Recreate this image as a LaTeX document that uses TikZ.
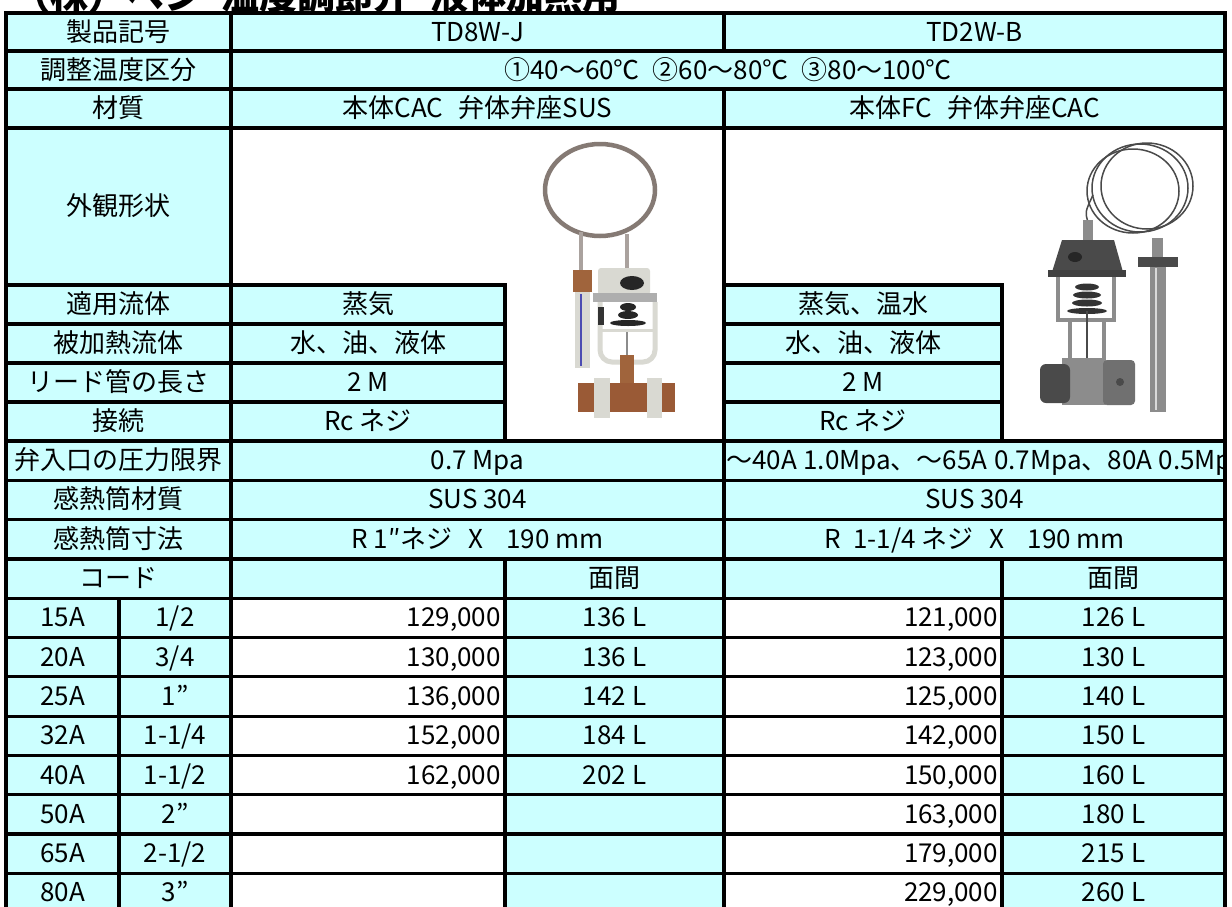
\documentclass[tikz,border=0pt]{standalone}
\usepackage{fontspec}
\setmainfont{Noto Sans CJK JP}
\definecolor{cellcyan}{HTML}{CCFFFF}
\definecolor{ringgrey}{HTML}{857A74}
\definecolor{paleparts}{HTML}{D9D9D2}
\definecolor{capbrown}{HTML}{A0643C}
\definecolor{pipebrown}{HTML}{9A5A36}
\definecolor{darkparts}{HTML}{4A4A4A}
\definecolor{midparts}{HTML}{8C8C8C}
\begin{document}
\begin{tikzpicture}[x=1pt,y=-1pt,
  txt/.style={anchor=base,inner sep=0pt,font=\fontsize{26}{28}\selectfont},
  rule/.style={line width=3.2pt,line cap=rect}]
\useasboundingbox[fill=white] (0,0) rectangle (1232,906);
% title, cut at the top of the sheet
\node[anchor=base west,inner sep=0pt,font=\fontsize{38}{40}\selectfont\bfseries] (title) at (12,9) {（株）ベン\hspace{0.5em}温度調節弁\hspace{0.5em}液体加熱用};

% cell backgrounds
\fill[cellcyan] (6,13) rectangle (1225,912);
\fill[white] (231,128) rectangle (1225,285);
\fill[white] (505,285) rectangle (724,441);
\fill[white] (1002,285) rectangle (1225,441);
\fill[white] (231,598.2) rectangle (505,912);
\fill[white] (724,598.2) rectangle (1002,912);

% TD8W-J valve
\draw[line width=4.5pt,ringgrey] (600,190) ellipse [x radius=55, y radius=46];
\draw[line width=4pt,ringgrey!70] (581,232) -- (581,272);
\draw[line width=4pt,ringgrey!70] (627,234) -- (627,268);
\fill[capbrown] (573,270) rectangle (592,292);
\fill[paleparts] (575,292) rectangle (590,368);
\draw[line width=1.5pt,blue!40!gray] (581,294) -- (581,366);
\fill[paleparts,rounded corners=3pt] (598,268) rectangle (650,295);
\fill[black!85] (632,283) ellipse [x radius=12, y radius=7];
\fill[midparts!70] (593,293) rectangle (657,302);
\draw[line width=5pt,paleparts,rounded corners=12pt] (600,302) -- (600,362) -- (655,362) -- (655,302);
\draw[line width=3pt,paleparts] (600,330) -- (655,330);
\fill[black!80] (598,307) rectangle (604,325);
\fill[black!85] (628,307) ellipse [x radius=8, y radius=4];
\fill[black!85] (628,315) ellipse [x radius=10, y radius=4];
\fill[black!85] (628,323) ellipse [x radius=18, y radius=3];
\draw[line width=2pt,midparts] (627,332) -- (627,358);
\fill[capbrown] (620,355) rectangle (634,383);
\fill[pipebrown] (578,383) rectangle (675,412);
\fill[paleparts] (594,378) rectangle (610,418);
\fill[paleparts] (647,378) rectangle (662,418);

% TD2W-B valve
\draw[line width=1.5pt,darkparts] (1140,188) ellipse [x radius=48, y radius=44];
\draw[line width=1.5pt,darkparts] (1147,186) ellipse [x radius=46, y radius=43];
\draw[line width=1.5pt,darkparts] (1133,191) ellipse [x radius=46, y radius=42];
\draw[line width=1.5pt,darkparts] (1093,195) .. controls (1085,212) .. (1088,222);
\fill[midparts] (1083,220) rectangle (1093,240);
\fill[darkparts] (1062,240) -- (1114,240) -- (1123,272) -- (1052,272) -- cycle;
\fill[black!85] (1075,257) ellipse [x radius=7, y radius=5];
\fill[black!75] (1048,270) rectangle (1126,277);
\draw[line width=3.5pt,midparts] (1058,277) -- (1058,320) -- (1114,320) -- (1114,277);
\fill[black!80] (1087,287) ellipse [x radius=12, y radius=3.5];
\fill[black!80] (1087,295) ellipse [x radius=14, y radius=3.5];
\fill[black!80] (1087,303) ellipse [x radius=15, y radius=3.5];
\fill[black!80] (1087,311) ellipse [x radius=20, y radius=3];
\draw[line width=3.5pt,midparts] (1070,320) -- (1070,358);
\draw[line width=3.5pt,midparts] (1104,320) -- (1104,358);
\draw[line width=2pt,darkparts] (1087,311) -- (1087,360);
\fill[midparts] (1062,358) rectangle (1106,405);
\fill[darkparts,rounded corners=6pt] (1040,364) rectangle (1070,403);
\fill[midparts!80!black,rounded corners=4pt] (1103,360) rectangle (1135,405);
\fill[darkparts] (1120,382) circle (4);
\fill[midparts] (1152,238) rectangle (1163,258);
\fill[darkparts] (1138,257) rectangle (1178,267);
\fill[midparts] (1150,267) rectangle (1166,412);
\draw[line width=2pt,white!70!gray] (1156,268) -- (1156,410);

% header rows
\node[txt] (name1) at (118.5,41) {製品記号};
\node[txt] (tdj1) at (477.5,41) {TD8W-J};
\node[txt] (tdb1) at (974.5,41) {TD2W-B};
\node[txt] (name2) at (118.5,79) {調整温度区分};
\node[txt] (temp2) at (728,79) {①40～60℃\hspace{0.5em}②60～80℃\hspace{0.5em}③80～100℃};
\node[txt] (name3) at (118.5,117.5) {材質};
\node[txt] (tdj3) at (477.5,117.5) {本体CAC\hspace{0.6em}弁体弁座SUS};
\node[txt] (tdb3) at (974.5,117.5) {本体FC\hspace{0.6em}弁体弁座CAC};
\node[txt] (name4) at (118.5,215.5) {外観形状};
\node[txt] (name5) at (118.5,313.5) {適用流体};
\node[txt] (tdj5) at (368,313.5) {蒸気};
\node[txt] (tdb5) at (863,313.5) {蒸気、温水};
\node[txt] (name6) at (118.5,352.5) {被加熱流体};
\node[txt] (tdj6) at (368,352.5) {水、油、液体};
\node[txt] (tdb6) at (863,352.5) {水、油、液体};
\node[txt] (name7) at (118.5,391.5) {リード管の長さ};
\node[txt] (tdj7) at (368,391.5) {2 M};
\node[txt] (tdb7) at (863,391.5) {2 M};
\node[txt] (name8) at (118.5,430.5) {接続};
\node[txt] (tdj8) at (368,430.5) {Rc ネジ};
\node[txt] (tdb8) at (863,430.5) {Rc ネジ};
\node[txt] (name9) at (118.5,469.6) {弁入口の圧力限界};
\node[txt] (tdj9) at (477.5,469.6) {0.7 Mpa};
\begin{scope}
  \clip (724,441) rectangle (1225,480.3);
  \node[txt,anchor=base west] (tdb9) at (726,469.6) {～40A\hspace{0.25em}1.0Mpa、～65A\hspace{0.25em}0.7Mpa、80A\hspace{0.25em}0.5Mpa};
\end{scope}
\node[txt] (name10) at (118.5,508.9) {感熱筒材質};
\node[txt] (tdj10) at (477.5,508.9) {SUS 304};
\node[txt] (tdb10) at (974.5,508.9) {SUS 304};
\node[txt] (name11) at (118.5,548.2) {感熱筒寸法};
\node[txt] (tdj11) at (477.5,548.2) {R 1″ネジ\hspace{0.6em}X\hspace{0.9em}190 mm};
\node[txt] (tdb11) at (974.5,548.2) {R\hspace{0.5em}1-1/4 ネジ\hspace{0.6em}X\hspace{0.9em}190 mm};
\node[txt] (name12) at (118.5,587.5) {コード};
\node[txt] (tdj12) at (614.5,587.5) {面間};
\node[txt] (tdb12) at (1113.5,587.5) {面間};

% price rows
\foreach \k/\code/\size/\pj/\lj/\pb/\lb in {
  0/15A/{1/2}/{129,000}/136 L/{121,000}/126 L,
  1/20A/{3/4}/{130,000}/136 L/{123,000}/130 L,
  2/25A/1”/{136,000}/142 L/{125,000}/140 L,
  3/32A/{1-1/4}/{152,000}/184 L/{142,000}/150 L,
  4/40A/{1-1/2}/{162,000}/202 L/{150,000}/160 L,
  5/50A/2”/{}/{}/{163,000}/180 L,
  6/65A/{2-1/2}/{}/{}/{179,000}/215 L,
  7/80A/3”/{}/{}/{229,000}/260 L}{
  \node[txt] (code\k) at (62.5,{626.8+39.3*\k}) {\code};
  \node[txt] (size\k) at (175,{626.8+39.3*\k}) {\size};
  \node[txt,anchor=base east] (pj\k) at (501,{626.8+39.3*\k}) {\pj};
  \node[txt] (lj\k) at (614.5,{626.8+39.3*\k}) {\lj};
  \node[txt,anchor=base east] (pb\k) at (998,{626.8+39.3*\k}) {\pb};
  \node[txt] (lb\k) at (1113.5,{626.8+39.3*\k}) {\lb};
}

% grid
\foreach \y in {13,51,89,128,441,480.3,519.6,558.9,598.2,637.5,676.8,716.1,755.4,794.7,834,873.3}
  \draw[rule] (6,\y) -- (1225,\y);
\foreach \y in {285,324,363,402}{
  \draw[rule] (6,\y) -- (505,\y);
  \draw[rule] (724,\y) -- (1002,\y);
}
\draw[rule] (6,13) -- (6,912);
\draw[rule] (231,13) -- (231,912);
\draw[rule] (1225,13) -- (1225,912);
\draw[rule] (724,13) -- (724,51);
\draw[rule] (724,89) -- (724,912);
\draw[rule] (505,285) -- (505,441);
\draw[rule] (505,558.9) -- (505,912);
\draw[rule] (1002,285) -- (1002,441);
\draw[rule] (1002,558.9) -- (1002,912);
\draw[rule] (119,598.2) -- (119,912);
\end{tikzpicture}
\end{document}
